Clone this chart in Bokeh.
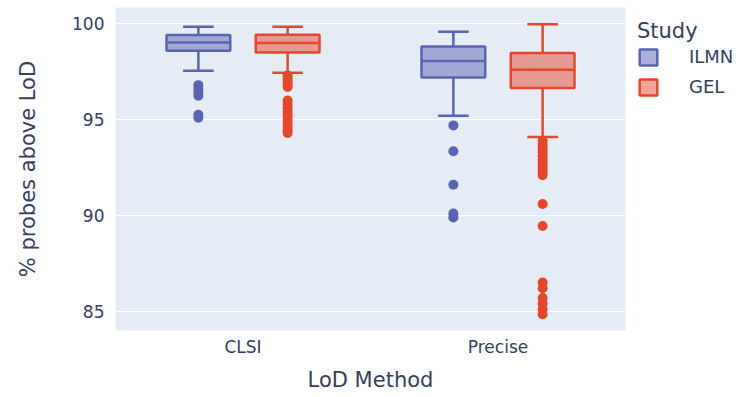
from bokeh.plotting import figure
from bokeh.models import FactorRange, Range1d, FixedTicker, Legend, LegendItem, ColumnDataSource
from bokeh.transform import dodge
from bokeh.embed import file_html
from bokeh.resources import INLINE

# ---- data ----
methods = ["CLSI", "Precise"]
studies = ["ILMN", "GEL"]

ilmn_lower = [97.55, 95.2]
ilmn_q1 = [98.6, 97.2]
ilmn_median = [99.03, 98.06]
ilmn_q3 = [99.42, 98.82]
ilmn_upper = [99.84, 99.58]

gel_lower = [97.45, 94.1]
gel_q1 = [98.5, 96.65]
gel_median = [99.0, 97.6]
gel_q3 = [99.43, 98.47]
gel_upper = [99.84, 99.98]

ilmn_clsi_out = [96.8, 96.6, 96.4, 96.25, 95.25, 95.1]
gel_clsi_out = [97.3, 97.15, 97.0, 96.85, 96.7, 96.0, 95.8, 95.6, 95.4, 95.2,
                95.0, 94.8, 94.6, 94.45, 94.3]
ilmn_precise_out = [94.7, 93.35, 91.6, 90.1, 89.9]
gel_precise_out = [93.9, 93.7, 93.5, 93.3, 93.1, 92.9, 92.7, 92.5, 92.3, 92.1,
                   90.6, 89.45, 86.5, 86.2, 85.7, 85.4, 85.1, 84.85]

y_ticks = [85, 90, 95, 100]

# ---- style ----
TEXT = "#34405e"
FONT = "DejaVu Sans"
colors = {"ILMN": "#5b63b3", "GEL": "#e6472b"}
offsets = {"ILMN": -0.175, "GEL": 0.175}
BOX_W = 0.25
CAP_W = 0.12

p = figure(frame_width=510, frame_height=323, output_backend="svg", toolbar_location=None,
           x_range=FactorRange(factors=methods, range_padding=0),
           y_range=Range1d(84.0, 100.85),
           min_border_left=115, min_border_right=10, min_border_top=7,
           min_border_bottom=60)
p.background_fill_color = "#e5ecf6"
p.border_fill_color = "white"
p.outline_line_color = None

stats = {
    "ILMN": (ilmn_lower, ilmn_q1, ilmn_median, ilmn_q3, ilmn_upper),
    "GEL": (gel_lower, gel_q1, gel_median, gel_q3, gel_upper),
}
outliers = {
    "ILMN": (ilmn_clsi_out, ilmn_precise_out),
    "GEL": (gel_clsi_out, gel_precise_out),
}

legend_items = []
for s in studies:
    lo, q1, med, q3, up = stats[s]
    c = colors[s]
    off = offsets[s]
    src = ColumnDataSource(dict(method=methods, lower=lo, q1=q1, median=med, q3=q3, upper=up))
    # whiskers
    p.segment(x0=dodge("method", off, range=p.x_range), x1=dodge("method", off, range=p.x_range),
              y0="q3", y1="upper", source=src, line_color=c, line_width=2.5)
    p.segment(x0=dodge("method", off, range=p.x_range), x1=dodge("method", off, range=p.x_range),
              y0="q1", y1="lower", source=src, line_color=c, line_width=2.5)
    # caps
    for col in ("upper", "lower"):
        p.segment(x0=dodge("method", off - CAP_W / 2, range=p.x_range),
                  x1=dodge("method", off + CAP_W / 2, range=p.x_range),
                  y0=col, y1=col, source=src, line_color=c, line_width=2.5)
    # box
    box = p.vbar(x=dodge("method", off, range=p.x_range), width=BOX_W, top="q3", bottom="q1",
                 source=src, fill_color=c, fill_alpha=0.5, line_color=c, line_width=2.5)
    # median
    p.segment(x0=dodge("method", off - BOX_W / 2, range=p.x_range),
              x1=dodge("method", off + BOX_W / 2, range=p.x_range),
              y0="median", y1="median", source=src, line_color=c, line_width=2.5)
    # outliers
    xs, ys = [], []
    for m, vals in zip(methods, outliers[s]):
        xs += [m] * len(vals)
        ys += vals
    osrc = ColumnDataSource(dict(method=xs, y=ys))
    p.scatter(x=dodge("method", off, range=p.x_range), y="y", source=osrc, size=10,
              fill_color=c, line_color=c, line_width=0)
    legend_items.append(LegendItem(label=s, renderers=[box]))

# axes
p.yaxis.ticker = FixedTicker(ticks=y_ticks)
for ax in (p.xaxis[0], p.yaxis[0]):
    ax.axis_line_color = None
    ax.major_tick_line_color = None
    ax.minor_tick_line_color = None
    ax.major_label_text_font = FONT
    ax.major_label_text_font_size = "17px"
    ax.major_label_text_color = TEXT
    ax.axis_label_text_font = FONT
    ax.axis_label_text_font_size = "21px"
    ax.axis_label_text_font_style = "normal"
    ax.axis_label_text_color = TEXT
p.xaxis.axis_label = "LoD Method"
p.yaxis.axis_label = "% probes above LoD"
p.xaxis.major_label_standoff = 0
p.xaxis.axis_label_standoff = 8
p.yaxis.major_label_standoff = 5
p.yaxis.axis_label_standoff = 29

p.xgrid.grid_line_color = None
p.ygrid.grid_line_color = "white"
p.ygrid.grid_line_width = 1

legend = Legend(items=legend_items, location="top_left", title="Study",
                title_text_font=FONT, title_text_font_size="21px", title_text_color=TEXT,
                title_text_font_style="normal", title_standoff=3,
                label_text_font=FONT, label_text_font_size="18px", label_text_color=TEXT,
                glyph_width=22, glyph_height=20, label_standoff=30, spacing=9,
                padding=8, margin=4, background_fill_alpha=0, border_line_alpha=0)
p.add_layout(legend, "right")

open("out.html", "w").write(file_html(p, INLINE))
